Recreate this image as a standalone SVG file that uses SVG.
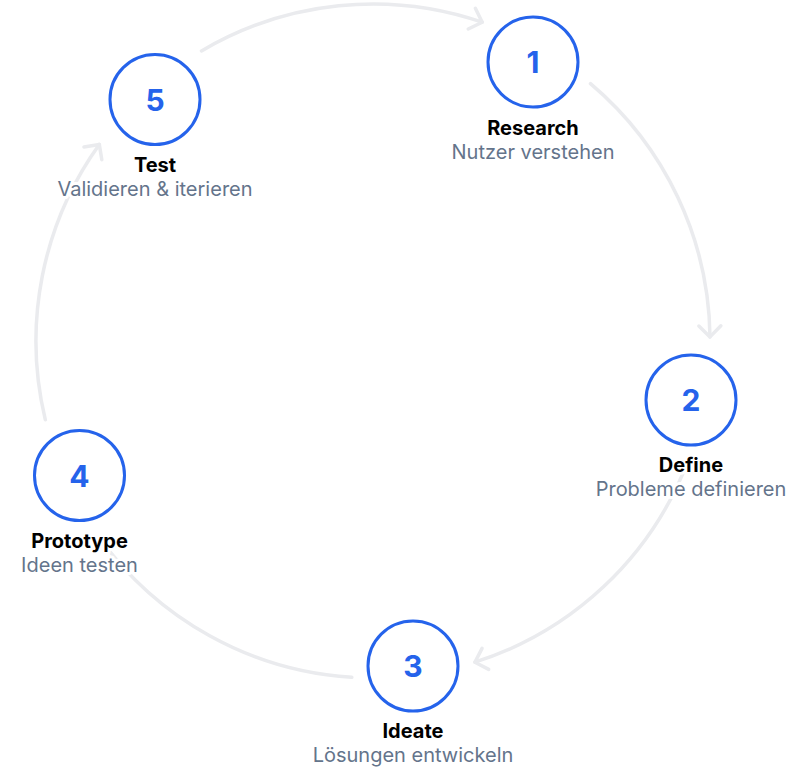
<svg xmlns="http://www.w3.org/2000/svg" width="787" height="768" viewBox="0 0 787 768">
  <style>
    .arc { fill: none; stroke: #eaebee; stroke-width: 3.5; stroke-linecap: round; }
    .ring { fill: #ffffff; stroke: #2563eb; stroke-width: 3; }
    .num { font-family: Inter, "Liberation Sans", sans-serif; font-size: 30px; font-weight: 700; fill: #2563eb; text-anchor: middle; }
    .title { font-family: Inter, "Liberation Sans", sans-serif; font-size: 20px; font-weight: 700; fill: #000000; text-anchor: middle; stroke: #ffffff; stroke-width: 6; stroke-linejoin: round; paint-order: stroke; }
    .sub { font-family: Inter, "Liberation Sans", sans-serif; font-size: 20px; font-weight: 400; fill: #64748b; text-anchor: middle; stroke: #ffffff; stroke-width: 6; stroke-linejoin: round; paint-order: stroke; }
  </style>
  <defs>
    <marker id="arrow" markerUnits="userSpaceOnUse" orient="auto" viewBox="-15 -15 30 30" markerWidth="30" markerHeight="30" refX="0" refY="0" overflow="visible">
      <path d="M-11,-11 L0,0 L-11,11" fill="none" stroke="#eaebee" stroke-width="3.5" stroke-linecap="round" stroke-linejoin="round"/>
    </marker>
  </defs>
  <rect width="787" height="768" fill="#ffffff"/>
  <g id="connectors">
    <path class="arc" marker-end="url(#arrow)" d="M201.5,50.9 A337,337 0 0 1 482.2,22.2"/>
    <path class="arc" marker-end="url(#arrow)" d="M590.5,83.6 A337,337 0 0 1 710.0,336.9"/>
    <path class="arc" marker-end="url(#arrow)" d="M687.0,463.4 A337,337 0 0 1 474.9,662.2"/>
    <path class="arc" marker-end="url(#arrow)" d="M351.8,677.3 A337,337 0 0 1 99.0,537.2"/>
    <path class="arc" marker-end="url(#arrow)" d="M45.3,419.7 A337,337 0 0 1 99.3,144.4"/>
  </g>
  <g id="node-1">
    <circle class="ring" cx="533" cy="62" r="45"/>
    <text class="num" x="533" y="73">1</text>
    <text class="title" x="533" y="135">Research</text>
    <text class="sub" x="533" y="159">Nutzer verstehen</text>
  </g>
  <g id="node-2">
    <circle class="ring" cx="691" cy="400" r="45"/>
    <text class="num" x="691" y="411">2</text>
    <text class="title" x="691" y="472">Define</text>
    <text class="sub" x="691" y="496">Probleme definieren</text>
  </g>
  <g id="node-3">
    <circle class="ring" cx="413" cy="666" r="45"/>
    <text class="num" x="413" y="677">3</text>
    <text class="title" x="413" y="738">Ideate</text>
    <text class="sub" x="413" y="762">Lösungen entwickeln</text>
  </g>
  <g id="node-4">
    <circle class="ring" cx="79.5" cy="475.5" r="45"/>
    <text class="num" x="79.5" y="486.5">4</text>
    <text class="title" x="79.5" y="548">Prototype</text>
    <text class="sub" x="79.5" y="572">Ideen testen</text>
  </g>
  <g id="node-5">
    <circle class="ring" cx="155" cy="99.5" r="45"/>
    <text class="num" x="155" y="110.5">5</text>
    <text class="title" x="155" y="172">Test</text>
    <text class="sub" x="155" y="196">Validieren &amp; iterieren</text>
  </g>
</svg>
